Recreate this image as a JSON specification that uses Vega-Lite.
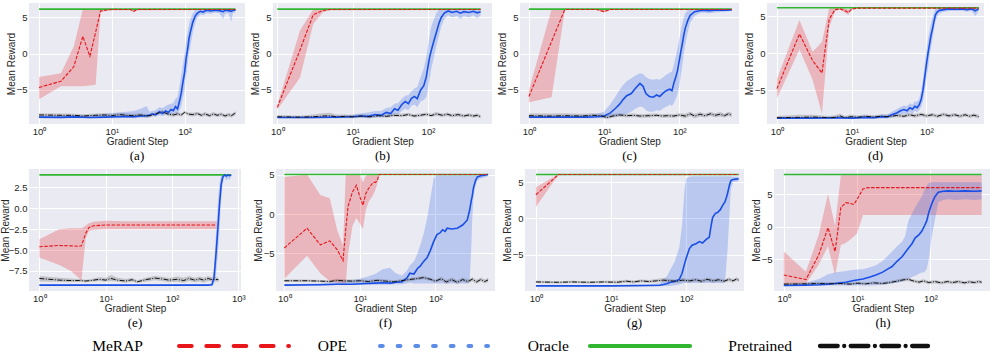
{
"$schema":"https://vega.github.io/schema/vega-lite/v6.json",
"padding":{"left":0,"top":3,"right":0,"bottom":0},
"background":"white",
"config":{
 "view":{"fill":"#eaeaf2","stroke":null},
 "axis":{"grid":true,"gridColor":"#ffffff","gridWidth":1,"domain":false,"ticks":false,"labelFont":"Liberation Sans","labelFontSize":9.5,"labelColor":"#262626","titleFont":"Liberation Sans","titleFontSize":10,"titleFontWeight":"normal","titleColor":"#262626","labelPadding":2},
 "axisY":{"titlePadding":0},
 "axisX":{"titlePadding":1,"labelFlush":false,"labelOverlap":false,"labelExpr":"datum.value == 1 ? '10⁰' : datum.value == 10 ? '10¹' : datum.value == 100 ? '10²' : '10³'"},
 "title":{"orient":"bottom","frame":"group","font":"Liberation Serif","fontSize":13,"fontWeight":"normal","color":"#000000","offset":3}
},
"datasets":{
"a":[
{"s":"R","x":1,"y":6.15},{"s":"R","x":500,"y":6.15},
{"s":"M","x":1,"y":-4.65,"l":-6.3,"h":-3.2},{"s":"M","x":2,"y":-3.8,"l":-4.5,"h":-2.7},{"s":"M","x":3,"y":-1.8,"l":-4.5,"h":1.0},{"s":"M","x":4,"y":2.4,"l":-4.5,"h":6.15},{"s":"M","x":5,"y":-0.35,"l":-4.4,"h":6.15},{"s":"M","x":6,"y":3.0,"l":-4.3,"h":6.15},{"s":"M","x":7,"y":5.9,"l":5.7,"h":6.15},{"s":"M","x":8,"y":6.0,"l":5.85,"h":6.15},{"s":"M","x":10,"y":6.1,"l":6.0,"h":6.15},{"s":"M","x":18,"y":6.1,"l":6.0,"h":6.15},{"s":"M","x":20,"y":5.85,"l":5.7,"h":6.1},{"s":"M","x":22,"y":6.1,"l":6.0,"h":6.15},{"s":"M","x":500,"y":6.1,"l":6.05,"h":6.15},
{"s":"O","x":1,"y":-8.75,"l":-8.9,"h":-8.55},{"s":"O","x":2,"y":-8.78,"l":-8.9,"h":-8.5},{"s":"O","x":3,"y":-8.72,"l":-8.9,"h":-8.45},{"s":"O","x":5,"y":-8.8,"l":-8.9,"h":-8.5},{"s":"O","x":8,"y":-8.75,"l":-8.9,"h":-8.3},{"s":"O","x":12,"y":-8.7,"l":-8.9,"h":-8.1},{"s":"O","x":16,"y":-8.65,"l":-8.85,"h":-8.0},{"s":"O","x":20,"y":-8.7,"l":-8.9,"h":-7.9},{"s":"O","x":25,"y":-8.6,"l":-8.85,"h":-7.6},{"s":"O","x":30,"y":-8.55,"l":-8.8,"h":-7.2},{"s":"O","x":33,"y":-8.5,"l":-8.8,"h":-8.0},{"s":"O","x":36,"y":-8.3,"l":-8.6,"h":-7.9},{"s":"O","x":40,"y":-8.45,"l":-8.7,"h":-7.8},{"s":"O","x":45,"y":-8.0,"l":-8.5,"h":-7.4},{"s":"O","x":50,"y":-8.25,"l":-8.6,"h":-7.5},{"s":"O","x":55,"y":-7.9,"l":-8.4,"h":-7.2},{"s":"O","x":60,"y":-8.1,"l":-8.5,"h":-7.0},{"s":"O","x":65,"y":-7.7,"l":-8.3,"h":-6.9},{"s":"O","x":70,"y":-7.85,"l":-8.4,"h":-6.8},{"s":"O","x":75,"y":-7.3,"l":-8.1,"h":-6.2},{"s":"O","x":80,"y":-7.6,"l":-8.3,"h":-6.0},{"s":"O","x":85,"y":-6.6,"l":-7.8,"h":-4.5},{"s":"O","x":90,"y":-5.4,"l":-7.2,"h":-3.0},{"s":"O","x":95,"y":-3.9,"l":-6.0,"h":-1.5},{"s":"O","x":100,"y":-2.6,"l":-5.0,"h":0.0},{"s":"O","x":105,"y":-0.6,"l":-3.0,"h":1.8},{"s":"O","x":110,"y":0.6,"l":-1.5,"h":3.0},{"s":"O","x":115,"y":2.1,"l":0.2,"h":4.0},{"s":"O","x":120,"y":3.0,"l":1.0,"h":4.8},{"s":"O","x":130,"y":4.4,"l":3.0,"h":5.6},{"s":"O","x":140,"y":5.2,"l":4.3,"h":6.0},{"s":"O","x":150,"y":5.6,"l":5.0,"h":6.1},{"s":"O","x":165,"y":5.85,"l":5.4,"h":6.15},{"s":"O","x":180,"y":5.75,"l":5.3,"h":6.15},{"s":"O","x":200,"y":6.0,"l":5.6,"h":6.15},{"s":"O","x":230,"y":5.9,"l":5.5,"h":6.15},{"s":"O","x":260,"y":6.0,"l":5.7,"h":6.15},{"s":"O","x":300,"y":5.95,"l":5.6,"h":6.15},{"s":"O","x":340,"y":5.8,"l":4.8,"h":6.15},{"s":"O","x":360,"y":6.0,"l":5.5,"h":6.15},{"s":"O","x":400,"y":5.95,"l":5.6,"h":6.15},{"s":"O","x":440,"y":5.85,"l":4.4,"h":6.1},{"s":"O","x":460,"y":6.0,"l":5.6,"h":6.15},{"s":"O","x":500,"y":6.0,"l":5.7,"h":6.15},
{"s":"P","x":1,"y":-8.45,"l":-8.7,"h":-8.2},{"s":"P","x":2,"y":-8.5,"l":-8.75,"h":-8.25},{"s":"P","x":3,"y":-8.5,"l":-8.7,"h":-8.3},{"s":"P","x":4,"y":-8.6,"l":-8.8,"h":-8.35},{"s":"P","x":6,"y":-8.5,"l":-8.75,"h":-8.25},{"s":"P","x":8,"y":-8.45,"l":-8.7,"h":-8.2},{"s":"P","x":10,"y":-8.55,"l":-8.75,"h":-8.3},{"s":"P","x":13,"y":-8.4,"l":-8.65,"h":-8.15},{"s":"P","x":16,"y":-8.5,"l":-8.75,"h":-8.25},{"s":"P","x":20,"y":-8.55,"l":-8.8,"h":-8.3},{"s":"P","x":25,"y":-8.45,"l":-8.7,"h":-8.2},{"s":"P","x":30,"y":-8.6,"l":-8.85,"h":-8.35},{"s":"P","x":35,"y":-8.5,"l":-8.7,"h":-8.3},{"s":"P","x":40,"y":-8.3,"l":-8.5,"h":-8.1},{"s":"P","x":45,"y":-8.15,"l":-8.35,"h":-7.95},{"s":"P","x":50,"y":-8.0,"l":-8.2,"h":-7.8},{"s":"P","x":55,"y":-8.2,"l":-8.45,"h":-8.0},{"s":"P","x":60,"y":-8.35,"l":-8.6,"h":-8.1},{"s":"P","x":70,"y":-8.45,"l":-8.7,"h":-8.2},{"s":"P","x":80,"y":-8.3,"l":-8.55,"h":-8.05},{"s":"P","x":90,"y":-8.45,"l":-8.7,"h":-8.2},{"s":"P","x":100,"y":-8.1,"l":-8.3,"h":-7.9},{"s":"P","x":115,"y":-8.35,"l":-8.6,"h":-8.1},{"s":"P","x":130,"y":-8.4,"l":-8.65,"h":-8.15},{"s":"P","x":150,"y":-8.25,"l":-8.5,"h":-8.0},{"s":"P","x":170,"y":-8.5,"l":-8.75,"h":-8.25},{"s":"P","x":190,"y":-8.3,"l":-8.55,"h":-8.05},{"s":"P","x":220,"y":-8.55,"l":-8.8,"h":-8.3},{"s":"P","x":250,"y":-8.3,"l":-8.55,"h":-8.05},{"s":"P","x":280,"y":-8.5,"l":-8.75,"h":-8.25},{"s":"P","x":320,"y":-8.35,"l":-8.6,"h":-8.1},{"s":"P","x":360,"y":-8.6,"l":-8.85,"h":-8.35},{"s":"P","x":400,"y":-8.4,"l":-8.65,"h":-8.15},{"s":"P","x":440,"y":-8.55,"l":-8.8,"h":-8.3},{"s":"P","x":480,"y":-8.3,"l":-8.55,"h":-8.05},{"s":"P","x":500,"y":-8.2,"l":-8.45,"h":-7.95}
],
"b":[
{"s":"R","x":1,"y":6.15},{"s":"R","x":500,"y":6.15},
{"s":"M","x":1,"y":-7.4,"l":-7.7,"h":-7.1},{"s":"M","x":2,"y":0.5,"l":-3.3,"h":3.2},{"s":"M","x":3,"y":5.4,"l":4.1,"h":6.15},{"s":"M","x":4,"y":5.95,"l":5.7,"h":6.15},{"s":"M","x":5,"y":6.1,"l":6.0,"h":6.15},{"s":"M","x":500,"y":6.1,"l":6.05,"h":6.15},
{"s":"O","x":1,"y":-8.8,"l":-8.9,"h":-8.7},{"s":"O","x":3,"y":-8.8,"l":-8.9,"h":-8.65},{"s":"O","x":6,"y":-8.75,"l":-8.9,"h":-8.6},{"s":"O","x":10,"y":-8.7,"l":-8.9,"h":-8.4},{"s":"O","x":13,"y":-8.6,"l":-8.85,"h":-8.2},{"s":"O","x":16,"y":-8.65,"l":-8.9,"h":-8.1},{"s":"O","x":20,"y":-8.4,"l":-8.8,"h":-7.9},{"s":"O","x":24,"y":-8.5,"l":-8.8,"h":-7.9},{"s":"O","x":28,"y":-8.1,"l":-8.6,"h":-7.5},{"s":"O","x":32,"y":-8.25,"l":-8.7,"h":-7.4},{"s":"O","x":36,"y":-7.6,"l":-8.3,"h":-6.9},{"s":"O","x":40,"y":-7.8,"l":-8.4,"h":-6.8},{"s":"O","x":45,"y":-7.0,"l":-7.9,"h":-6.2},{"s":"O","x":50,"y":-6.6,"l":-7.6,"h":-5.8},{"s":"O","x":55,"y":-6.9,"l":-7.8,"h":-5.7},{"s":"O","x":60,"y":-6.2,"l":-7.2,"h":-5.2},{"s":"O","x":66,"y":-5.9,"l":-7.0,"h":-4.8},{"s":"O","x":72,"y":-6.2,"l":-7.4,"h":-4.6},{"s":"O","x":80,"y":-5.0,"l":-6.6,"h":-3.2},{"s":"O","x":88,"y":-4.4,"l":-6.4,"h":-2.0},{"s":"O","x":95,"y":-3.2,"l":-6.0,"h":-0.5},{"s":"O","x":100,"y":-1.8,"l":-5.0,"h":1.0},{"s":"O","x":105,"y":-0.5,"l":-3.5,"h":2.5},{"s":"O","x":111,"y":0.5,"l":-2.0,"h":3.8},{"s":"O","x":120,"y":1.8,"l":-0.5,"h":4.8},{"s":"O","x":129,"y":2.9,"l":1.0,"h":5.6},{"s":"O","x":140,"y":4.2,"l":2.5,"h":6.1},{"s":"O","x":150,"y":5.0,"l":3.8,"h":6.15},{"s":"O","x":165,"y":5.6,"l":4.8,"h":6.15},{"s":"O","x":185,"y":5.9,"l":5.3,"h":6.15},{"s":"O","x":210,"y":5.7,"l":5.0,"h":6.15},{"s":"O","x":240,"y":5.85,"l":5.2,"h":6.15},{"s":"O","x":270,"y":5.6,"l":4.8,"h":6.1},{"s":"O","x":300,"y":5.8,"l":5.2,"h":6.15},{"s":"O","x":350,"y":5.7,"l":5.0,"h":6.1},{"s":"O","x":400,"y":5.85,"l":5.3,"h":6.15},{"s":"O","x":450,"y":5.65,"l":4.9,"h":6.1},{"s":"O","x":500,"y":5.8,"l":5.3,"h":6.1},
{"s":"P","x":1,"y":-8.7,"l":-8.85,"h":-8.45},{"s":"P","x":2,"y":-8.75,"l":-8.9,"h":-8.55},{"s":"P","x":3,"y":-8.7,"l":-8.9,"h":-8.4},{"s":"P","x":4,"y":-8.6,"l":-8.85,"h":-8.2},{"s":"P","x":5,"y":-8.55,"l":-8.85,"h":-8.15},{"s":"P","x":6,"y":-8.7,"l":-8.9,"h":-8.4},{"s":"P","x":8,"y":-8.65,"l":-8.85,"h":-8.4},{"s":"P","x":10,"y":-8.7,"l":-8.9,"h":-8.45},{"s":"P","x":13,"y":-8.6,"l":-8.8,"h":-8.35},{"s":"P","x":17,"y":-8.7,"l":-8.9,"h":-8.45},{"s":"P","x":22,"y":-8.55,"l":-8.75,"h":-8.3},{"s":"P","x":28,"y":-8.65,"l":-8.85,"h":-8.4},{"s":"P","x":35,"y":-8.5,"l":-8.7,"h":-8.25},{"s":"P","x":45,"y":-8.55,"l":-8.75,"h":-8.3},{"s":"P","x":55,"y":-8.4,"l":-8.6,"h":-8.15},{"s":"P","x":65,"y":-8.6,"l":-8.8,"h":-8.35},{"s":"P","x":80,"y":-8.5,"l":-8.7,"h":-8.25},{"s":"P","x":95,"y":-8.35,"l":-8.6,"h":-8.1},{"s":"P","x":110,"y":-8.55,"l":-8.75,"h":-8.3},{"s":"P","x":130,"y":-8.3,"l":-8.55,"h":-8.05},{"s":"P","x":155,"y":-8.5,"l":-8.75,"h":-8.25},{"s":"P","x":180,"y":-8.35,"l":-8.6,"h":-8.1},{"s":"P","x":210,"y":-8.55,"l":-8.8,"h":-8.3},{"s":"P","x":250,"y":-8.4,"l":-8.65,"h":-8.15},{"s":"P","x":300,"y":-8.6,"l":-8.85,"h":-8.35},{"s":"P","x":350,"y":-8.45,"l":-8.7,"h":-8.2},{"s":"P","x":400,"y":-8.6,"l":-8.85,"h":-8.35},{"s":"P","x":450,"y":-8.5,"l":-8.75,"h":-8.25},{"s":"P","x":500,"y":-8.7,"l":-8.9,"h":-8.45}
],
"c":[
{"s":"R","x":1,"y":6.15},{"s":"R","x":500,"y":6.15},
{"s":"M","x":1,"y":-5.9,"l":-6.7,"h":-5.0},{"s":"M","x":2,"y":1.7,"l":-6.0,"h":6.15},{"s":"M","x":3,"y":6.1,"l":6.05,"h":6.15},{"s":"M","x":8,"y":6.1,"l":6.05,"h":6.15},{"s":"M","x":10,"y":5.8,"l":5.7,"h":6.1},{"s":"M","x":12,"y":6.1,"l":6.05,"h":6.15},{"s":"M","x":500,"y":6.1,"l":6.05,"h":6.15},
{"s":"O","x":1,"y":-8.75,"l":-8.9,"h":-8.6},{"s":"O","x":3,"y":-8.75,"l":-8.9,"h":-8.55},{"s":"O","x":6,"y":-8.75,"l":-8.9,"h":-8.5},{"s":"O","x":8,"y":-8.7,"l":-8.9,"h":-8.3},{"s":"O","x":10,"y":-8.6,"l":-8.9,"h":-8.0},{"s":"O","x":12,"y":-8.2,"l":-8.8,"h":-7.0},{"s":"O","x":14,"y":-7.6,"l":-8.7,"h":-6.0},{"s":"O","x":16,"y":-7.0,"l":-8.6,"h":-5.0},{"s":"O","x":18,"y":-6.3,"l":-8.5,"h":-4.3},{"s":"O","x":20,"y":-5.8,"l":-8.3,"h":-3.8},{"s":"O","x":23,"y":-5.5,"l":-8.0,"h":-3.4},{"s":"O","x":26,"y":-4.8,"l":-7.6,"h":-3.0},{"s":"O","x":30,"y":-4.1,"l":-7.3,"h":-2.7},{"s":"O","x":33,"y":-4.5,"l":-7.4,"h":-2.8},{"s":"O","x":36,"y":-5.5,"l":-7.8,"h":-3.2},{"s":"O","x":40,"y":-5.9,"l":-8.0,"h":-3.5},{"s":"O","x":45,"y":-6.0,"l":-8.0,"h":-3.6},{"s":"O","x":50,"y":-5.7,"l":-7.8,"h":-3.5},{"s":"O","x":55,"y":-5.9,"l":-7.9,"h":-3.6},{"s":"O","x":60,"y":-5.5,"l":-7.6,"h":-3.3},{"s":"O","x":65,"y":-5.2,"l":-7.4,"h":-3.0},{"s":"O","x":70,"y":-5.0,"l":-7.2,"h":-2.8},{"s":"O","x":75,"y":-4.9,"l":-7.0,"h":-2.6},{"s":"O","x":80,"y":-5.1,"l":-7.2,"h":-2.5},{"s":"O","x":85,"y":-4.0,"l":-6.8,"h":-1.5},{"s":"O","x":90,"y":-3.2,"l":-6.2,"h":-0.3},{"s":"O","x":95,"y":-2.3,"l":-5.5,"h":0.8},{"s":"O","x":100,"y":-1.0,"l":-4.5,"h":2.0},{"s":"O","x":105,"y":0.3,"l":-3.0,"h":3.2},{"s":"O","x":110,"y":1.4,"l":-1.5,"h":4.2},{"s":"O","x":115,"y":2.6,"l":0.0,"h":5.0},{"s":"O","x":120,"y":3.5,"l":1.2,"h":5.6},{"s":"O","x":130,"y":4.6,"l":3.0,"h":6.0},{"s":"O","x":140,"y":5.3,"l":4.3,"h":6.15},{"s":"O","x":160,"y":5.8,"l":5.2,"h":6.15},{"s":"O","x":180,"y":5.9,"l":5.5,"h":6.15},{"s":"O","x":200,"y":6.0,"l":5.7,"h":6.15},{"s":"O","x":250,"y":5.95,"l":5.6,"h":6.15},{"s":"O","x":300,"y":6.0,"l":5.7,"h":6.15},{"s":"O","x":400,"y":6.0,"l":5.8,"h":6.15},{"s":"O","x":500,"y":6.05,"l":5.9,"h":6.15},
{"s":"P","x":1,"y":-8.55,"l":-8.8,"h":-8.2},{"s":"P","x":2,"y":-8.6,"l":-8.85,"h":-8.25},{"s":"P","x":3,"y":-8.55,"l":-8.8,"h":-8.2},{"s":"P","x":5,"y":-8.6,"l":-8.8,"h":-8.3},{"s":"P","x":7,"y":-8.5,"l":-8.7,"h":-8.2},{"s":"P","x":9,"y":-8.55,"l":-8.8,"h":-8.3},{"s":"P","x":11,"y":-8.8,"l":-9.0,"h":-8.5},{"s":"P","x":13,"y":-8.6,"l":-8.85,"h":-8.3},{"s":"P","x":16,"y":-8.45,"l":-8.7,"h":-8.2},{"s":"P","x":20,"y":-8.55,"l":-8.8,"h":-8.3},{"s":"P","x":25,"y":-8.5,"l":-8.75,"h":-8.25},{"s":"P","x":30,"y":-8.6,"l":-8.85,"h":-8.35},{"s":"P","x":40,"y":-8.55,"l":-8.8,"h":-8.3},{"s":"P","x":50,"y":-8.5,"l":-8.75,"h":-8.25},{"s":"P","x":60,"y":-8.6,"l":-8.85,"h":-8.35},{"s":"P","x":70,"y":-8.55,"l":-8.8,"h":-8.3},{"s":"P","x":85,"y":-8.6,"l":-8.85,"h":-8.35},{"s":"P","x":100,"y":-8.45,"l":-8.7,"h":-8.2},{"s":"P","x":120,"y":-8.6,"l":-8.9,"h":-8.3},{"s":"P","x":140,"y":-8.3,"l":-8.6,"h":-8.0},{"s":"P","x":160,"y":-8.6,"l":-8.9,"h":-8.3},{"s":"P","x":190,"y":-8.35,"l":-8.65,"h":-8.05},{"s":"P","x":220,"y":-8.55,"l":-8.8,"h":-8.3},{"s":"P","x":260,"y":-8.3,"l":-8.6,"h":-8.0},{"s":"P","x":300,"y":-8.5,"l":-8.8,"h":-8.2},{"s":"P","x":350,"y":-8.35,"l":-8.65,"h":-8.05},{"s":"P","x":400,"y":-8.55,"l":-8.8,"h":-8.3},{"s":"P","x":450,"y":-8.3,"l":-8.6,"h":-8.0},{"s":"P","x":500,"y":-8.45,"l":-8.75,"h":-8.15}
],
"d":[
{"s":"R","x":1,"y":6.15},{"s":"R","x":500,"y":6.15},
{"s":"M","x":1,"y":-4.8,"l":-6.1,"h":-3.5},{"s":"M","x":2,"y":2.6,"l":0.5,"h":4.5},{"s":"M","x":3,"y":-1.0,"l":-3.6,"h":0.2},{"s":"M","x":4,"y":-2.7,"l":-8.2,"h":1.5},{"s":"M","x":5,"y":4.6,"l":3.5,"h":6.1},{"s":"M","x":6,"y":5.9,"l":5.7,"h":6.15},{"s":"M","x":7,"y":6.0,"l":5.9,"h":6.15},{"s":"M","x":8,"y":5.8,"l":5.5,"h":6.1},{"s":"M","x":9,"y":5.5,"l":5.2,"h":5.9},{"s":"M","x":10,"y":6.0,"l":5.9,"h":6.15},{"s":"M","x":12,"y":6.1,"l":6.05,"h":6.15},{"s":"M","x":500,"y":6.1,"l":6.05,"h":6.15},
{"s":"O","x":1,"y":-8.8,"l":-8.9,"h":-8.7},{"s":"O","x":3,"y":-8.8,"l":-8.9,"h":-8.7},{"s":"O","x":6,"y":-8.75,"l":-8.9,"h":-8.6},{"s":"O","x":10,"y":-8.8,"l":-8.9,"h":-8.6},{"s":"O","x":15,"y":-8.7,"l":-8.9,"h":-8.5},{"s":"O","x":20,"y":-8.75,"l":-8.9,"h":-8.5},{"s":"O","x":25,"y":-8.6,"l":-8.85,"h":-8.3},{"s":"O","x":30,"y":-8.65,"l":-8.9,"h":-8.3},{"s":"O","x":35,"y":-8.3,"l":-8.7,"h":-7.9},{"s":"O","x":40,"y":-8.1,"l":-8.5,"h":-7.6},{"s":"O","x":45,"y":-7.8,"l":-8.3,"h":-7.3},{"s":"O","x":50,"y":-7.65,"l":-8.2,"h":-7.1},{"s":"O","x":55,"y":-7.8,"l":-8.3,"h":-7.2},{"s":"O","x":60,"y":-7.4,"l":-8.0,"h":-6.8},{"s":"O","x":65,"y":-7.6,"l":-8.2,"h":-7.0},{"s":"O","x":70,"y":-7.2,"l":-7.8,"h":-6.5},{"s":"O","x":75,"y":-7.4,"l":-8.0,"h":-6.6},{"s":"O","x":80,"y":-7.0,"l":-7.7,"h":-6.2},{"s":"O","x":85,"y":-6.3,"l":-7.3,"h":-5.0},{"s":"O","x":90,"y":-5.0,"l":-6.5,"h":-3.5},{"s":"O","x":95,"y":-3.2,"l":-5.0,"h":-1.5},{"s":"O","x":100,"y":-1.5,"l":-3.5,"h":0.5},{"s":"O","x":105,"y":0.0,"l":-2.0,"h":2.0},{"s":"O","x":110,"y":1.2,"l":-0.5,"h":3.0},{"s":"O","x":115,"y":2.4,"l":0.8,"h":4.0},{"s":"O","x":120,"y":3.2,"l":1.8,"h":4.8},{"s":"O","x":126,"y":4.3,"l":3.2,"h":5.5},{"s":"O","x":132,"y":5.2,"l":4.3,"h":6.0},{"s":"O","x":140,"y":5.6,"l":5.0,"h":6.15},{"s":"O","x":150,"y":5.8,"l":5.4,"h":6.15},{"s":"O","x":170,"y":5.9,"l":5.6,"h":6.15},{"s":"O","x":200,"y":6.0,"l":5.7,"h":6.15},{"s":"O","x":250,"y":5.95,"l":5.7,"h":6.15},{"s":"O","x":300,"y":6.0,"l":5.75,"h":6.15},{"s":"O","x":350,"y":5.9,"l":5.6,"h":6.15},{"s":"O","x":400,"y":6.0,"l":5.75,"h":6.15},{"s":"O","x":450,"y":5.75,"l":5.0,"h":6.1},{"s":"O","x":500,"y":6.0,"l":5.7,"h":6.15},
{"s":"P","x":1,"y":-8.75,"l":-8.9,"h":-8.5},{"s":"P","x":2,"y":-8.7,"l":-8.9,"h":-8.35},{"s":"P","x":3,"y":-8.65,"l":-8.9,"h":-8.35},{"s":"P","x":4,"y":-8.7,"l":-8.9,"h":-8.45},{"s":"P","x":5,"y":-8.75,"l":-8.9,"h":-8.5},{"s":"P","x":6,"y":-8.7,"l":-8.9,"h":-8.4},{"s":"P","x":7,"y":-8.5,"l":-8.8,"h":-8.2},{"s":"P","x":8,"y":-8.75,"l":-8.9,"h":-8.5},{"s":"P","x":10,"y":-8.6,"l":-8.85,"h":-8.3},{"s":"P","x":12,"y":-8.7,"l":-8.9,"h":-8.45},{"s":"P","x":15,"y":-8.55,"l":-8.8,"h":-8.3},{"s":"P","x":20,"y":-8.65,"l":-8.85,"h":-8.4},{"s":"P","x":25,"y":-8.55,"l":-8.8,"h":-8.3},{"s":"P","x":30,"y":-8.6,"l":-8.8,"h":-8.35},{"s":"P","x":40,"y":-8.45,"l":-8.7,"h":-8.2},{"s":"P","x":50,"y":-8.55,"l":-8.75,"h":-8.3},{"s":"P","x":60,"y":-8.35,"l":-8.6,"h":-8.1},{"s":"P","x":70,"y":-8.5,"l":-8.75,"h":-8.25},{"s":"P","x":85,"y":-8.3,"l":-8.55,"h":-8.05},{"s":"P","x":100,"y":-8.5,"l":-8.75,"h":-8.25},{"s":"P","x":120,"y":-8.35,"l":-8.6,"h":-8.1},{"s":"P","x":140,"y":-8.55,"l":-8.8,"h":-8.3},{"s":"P","x":170,"y":-8.3,"l":-8.55,"h":-8.05},{"s":"P","x":200,"y":-8.5,"l":-8.75,"h":-8.25},{"s":"P","x":240,"y":-8.35,"l":-8.6,"h":-8.1},{"s":"P","x":280,"y":-8.55,"l":-8.8,"h":-8.3},{"s":"P","x":330,"y":-8.35,"l":-8.6,"h":-8.1},{"s":"P","x":380,"y":-8.55,"l":-8.8,"h":-8.3},{"s":"P","x":430,"y":-8.4,"l":-8.65,"h":-8.15},{"s":"P","x":500,"y":-8.6,"l":-8.85,"h":-8.35}
],
"e":[
{"s":"R","x":1,"y":4.0},{"s":"R","x":780,"y":4.0},
{"s":"M","x":1,"y":-4.6,"l":-5.9,"h":-3.7},{"s":"M","x":2,"y":-4.45,"l":-6.8,"h":-2.5},{"s":"M","x":3,"y":-4.5,"l":-7.5,"h":-2.4},{"s":"M","x":4,"y":-4.55,"l":-8.4,"h":-2.4},{"s":"M","x":4.3,"y":-4.5,"l":-8.7,"h":-2.4},{"s":"M","x":5,"y":-3.0,"l":-3.6,"h":-2.1},{"s":"M","x":5.6,"y":-2.3,"l":-2.7,"h":-1.8},{"s":"M","x":6.5,"y":-2.1,"l":-2.6,"h":-1.6},{"s":"M","x":8,"y":-2.05,"l":-2.55,"h":-1.55},{"s":"M","x":10,"y":-2.0,"l":-2.5,"h":-1.5},{"s":"M","x":20,"y":-2.0,"l":-2.5,"h":-1.55},{"s":"M","x":50,"y":-2.0,"l":-2.5,"h":-1.55},{"s":"M","x":100,"y":-2.0,"l":-2.5,"h":-1.55},{"s":"M","x":200,"y":-2.0,"l":-2.5,"h":-1.55},{"s":"M","x":470,"y":-2.0,"l":-2.5,"h":-1.55},
{"s":"O","x":1,"y":-9.2,"l":-9.25,"h":-9.15},{"s":"O","x":10,"y":-9.2,"l":-9.25,"h":-9.15},{"s":"O","x":100,"y":-9.2,"l":-9.25,"h":-9.15},{"s":"O","x":350,"y":-9.2,"l":-9.25,"h":-9.1},{"s":"O","x":400,"y":-9.15,"l":-9.25,"h":-8.9},{"s":"O","x":430,"y":-8.3,"l":-9.0,"h":-7.0},{"s":"O","x":460,"y":-5.5,"l":-8.0,"h":-3.0},{"s":"O","x":490,"y":-2.5,"l":-5.5,"h":0.5},{"s":"O","x":520,"y":0.5,"l":-2.5,"h":3.0},{"s":"O","x":550,"y":2.8,"l":1.0,"h":4.0},{"s":"O","x":580,"y":3.7,"l":3.0,"h":4.0},{"s":"O","x":620,"y":4.0,"l":3.8,"h":4.05},{"s":"O","x":660,"y":3.85,"l":3.3,"h":4.05},{"s":"O","x":700,"y":4.0,"l":3.6,"h":4.05},{"s":"O","x":740,"y":3.9,"l":3.4,"h":4.05},{"s":"O","x":780,"y":4.0,"l":3.8,"h":4.05},
{"s":"P","x":1,"y":-8.4,"l":-8.75,"h":-8.1},{"s":"P","x":2,"y":-8.6,"l":-8.8,"h":-8.3},{"s":"P","x":3,"y":-8.65,"l":-8.85,"h":-8.4},{"s":"P","x":4,"y":-8.65,"l":-8.8,"h":-8.45},{"s":"P","x":5,"y":-8.7,"l":-8.85,"h":-8.55},{"s":"P","x":6,"y":-8.65,"l":-8.8,"h":-8.45},{"s":"P","x":8,"y":-8.5,"l":-8.7,"h":-8.25},{"s":"P","x":10,"y":-8.6,"l":-8.8,"h":-8.3},{"s":"P","x":12,"y":-8.4,"l":-8.7,"h":-8.0},{"s":"P","x":15,"y":-8.6,"l":-8.8,"h":-8.3},{"s":"P","x":20,"y":-8.7,"l":-8.9,"h":-8.45},{"s":"P","x":25,"y":-8.55,"l":-8.75,"h":-8.3},{"s":"P","x":30,"y":-8.8,"l":-8.95,"h":-8.6},{"s":"P","x":40,"y":-8.55,"l":-8.8,"h":-8.3},{"s":"P","x":55,"y":-8.35,"l":-8.6,"h":-8.1},{"s":"P","x":70,"y":-8.45,"l":-8.7,"h":-8.2},{"s":"P","x":90,"y":-8.6,"l":-8.85,"h":-8.35},{"s":"P","x":120,"y":-8.5,"l":-8.8,"h":-8.15},{"s":"P","x":150,"y":-8.65,"l":-8.9,"h":-8.3},{"s":"P","x":180,"y":-8.4,"l":-8.7,"h":-8.1},{"s":"P","x":220,"y":-8.6,"l":-8.85,"h":-8.3},{"s":"P","x":260,"y":-8.45,"l":-8.75,"h":-8.15},{"s":"P","x":300,"y":-8.6,"l":-8.9,"h":-8.3},{"s":"P","x":350,"y":-8.4,"l":-8.7,"h":-8.1},{"s":"P","x":400,"y":-8.55,"l":-8.8,"h":-8.25},{"s":"P","x":450,"y":-8.5,"l":-8.75,"h":-8.2},{"s":"P","x":500,"y":-8.55,"l":-8.8,"h":-8.3}
],
"f":[
{"s":"R","x":1,"y":5.0},{"s":"R","x":500,"y":5.0},
{"s":"M","x":1,"y":-4.3,"l":-8.2,"h":4.7},{"s":"M","x":2,"y":-1.8,"l":-5.3,"h":5.0},{"s":"M","x":3,"y":-3.9,"l":-7.5,"h":2.4},{"s":"M","x":4,"y":-3.4,"l":-8.5,"h":2.0},{"s":"M","x":5,"y":-4.5,"l":-8.7,"h":-2.0},{"s":"M","x":6,"y":-5.9,"l":-8.8,"h":-4.0},{"s":"M","x":6.5,"y":-2.0,"l":-8.8,"h":5.0},{"s":"M","x":7,"y":1.0,"l":-5.0,"h":5.0},{"s":"M","x":8,"y":2.8,"l":-1.5,"h":5.0},{"s":"M","x":9,"y":3.65,"l":-0.5,"h":5.0},{"s":"M","x":10,"y":2.2,"l":-1.2,"h":5.0},{"s":"M","x":11,"y":1.1,"l":-1.9,"h":4.0},{"s":"M","x":12,"y":2.6,"l":0.5,"h":4.8},{"s":"M","x":13,"y":3.2,"l":1.5,"h":5.0},{"s":"M","x":15,"y":4.0,"l":2.4,"h":5.0},{"s":"M","x":16,"y":4.0,"l":3.0,"h":5.0},{"s":"M","x":17,"y":4.2,"l":3.8,"h":5.0},{"s":"M","x":18,"y":5.0,"l":4.9,"h":5.05},{"s":"M","x":20,"y":5.0,"l":4.95,"h":5.05},{"s":"M","x":500,"y":5.0,"l":4.95,"h":5.05},
{"s":"O","x":1,"y":-9.0,"l":-9.05,"h":-8.9},{"s":"O","x":3,"y":-8.95,"l":-9.05,"h":-8.8},{"s":"O","x":5,"y":-8.9,"l":-9.0,"h":-8.6},{"s":"O","x":8,"y":-8.9,"l":-9.0,"h":-8.4},{"s":"O","x":12,"y":-8.8,"l":-9.0,"h":-8.0},{"s":"O","x":16,"y":-8.75,"l":-8.95,"h":-7.6},{"s":"O","x":20,"y":-8.7,"l":-8.95,"h":-7.0},{"s":"O","x":25,"y":-8.75,"l":-8.95,"h":-6.8},{"s":"O","x":30,"y":-8.65,"l":-8.9,"h":-7.5},{"s":"O","x":36,"y":-8.6,"l":-8.9,"h":-7.8},{"s":"O","x":42,"y":-8.1,"l":-8.8,"h":-7.2},{"s":"O","x":46,"y":-7.5,"l":-8.7,"h":-6.5},{"s":"O","x":52,"y":-7.6,"l":-8.8,"h":-6.0},{"s":"O","x":58,"y":-6.9,"l":-8.8,"h":-5.0},{"s":"O","x":63,"y":-6.6,"l":-8.8,"h":-4.0},{"s":"O","x":70,"y":-6.0,"l":-8.8,"h":-2.5},{"s":"O","x":78,"y":-5.5,"l":-8.8,"h":-0.5},{"s":"O","x":86,"y":-4.6,"l":-8.8,"h":2.0},{"s":"O","x":95,"y":-3.5,"l":-8.8,"h":4.5},{"s":"O","x":105,"y":-2.6,"l":-8.8,"h":5.0},{"s":"O","x":115,"y":-2.4,"l":-8.8,"h":5.0},{"s":"O","x":125,"y":-2.0,"l":-8.8,"h":5.0},{"s":"O","x":135,"y":-2.2,"l":-8.8,"h":5.0},{"s":"O","x":143,"y":-1.8,"l":-8.8,"h":5.0},{"s":"O","x":165,"y":-1.9,"l":-8.8,"h":5.0},{"s":"O","x":195,"y":-1.8,"l":-8.8,"h":5.0},{"s":"O","x":230,"y":-1.4,"l":-8.8,"h":5.0},{"s":"O","x":265,"y":-0.75,"l":-8.8,"h":5.0},{"s":"O","x":285,"y":0.5,"l":-8.5,"h":5.0},{"s":"O","x":300,"y":1.8,"l":-4.0,"h":5.0},{"s":"O","x":307,"y":2.2,"l":-1.0,"h":5.0},{"s":"O","x":320,"y":3.3,"l":2.0,"h":5.0},{"s":"O","x":340,"y":4.2,"l":3.6,"h":5.0},{"s":"O","x":360,"y":4.7,"l":4.3,"h":5.0},{"s":"O","x":400,"y":4.85,"l":4.5,"h":5.0},{"s":"O","x":440,"y":4.9,"l":4.6,"h":5.0},{"s":"O","x":500,"y":5.0,"l":4.8,"h":5.05},
{"s":"P","x":1,"y":-8.45,"l":-8.6,"h":-8.3},{"s":"P","x":2,"y":-8.45,"l":-8.6,"h":-8.3},{"s":"P","x":3,"y":-8.5,"l":-8.65,"h":-8.35},{"s":"P","x":4,"y":-8.55,"l":-8.7,"h":-8.4},{"s":"P","x":5,"y":-8.4,"l":-8.6,"h":-8.2},{"s":"P","x":6,"y":-8.45,"l":-8.6,"h":-8.25},{"s":"P","x":8,"y":-8.5,"l":-8.7,"h":-8.3},{"s":"P","x":10,"y":-8.45,"l":-8.65,"h":-8.25},{"s":"P","x":13,"y":-8.55,"l":-8.75,"h":-8.35},{"s":"P","x":17,"y":-8.4,"l":-8.6,"h":-8.2},{"s":"P","x":22,"y":-8.5,"l":-8.7,"h":-8.3},{"s":"P","x":28,"y":-8.6,"l":-8.8,"h":-8.4},{"s":"P","x":35,"y":-8.45,"l":-8.65,"h":-8.25},{"s":"P","x":45,"y":-8.3,"l":-8.5,"h":-8.1},{"s":"P","x":55,"y":-8.2,"l":-8.4,"h":-8.0},{"s":"P","x":70,"y":-8.05,"l":-8.25,"h":-7.85},{"s":"P","x":85,"y":-8.25,"l":-8.45,"h":-8.05},{"s":"P","x":100,"y":-8.5,"l":-8.7,"h":-8.3},{"s":"P","x":120,"y":-8.2,"l":-8.45,"h":-7.95},{"s":"P","x":140,"y":-8.6,"l":-8.85,"h":-8.35},{"s":"P","x":165,"y":-8.3,"l":-8.55,"h":-8.05},{"s":"P","x":195,"y":-8.65,"l":-8.9,"h":-8.4},{"s":"P","x":230,"y":-8.3,"l":-8.55,"h":-8.05},{"s":"P","x":270,"y":-8.55,"l":-8.8,"h":-8.3},{"s":"P","x":310,"y":-8.25,"l":-8.5,"h":-8.0},{"s":"P","x":350,"y":-8.6,"l":-8.85,"h":-8.35},{"s":"P","x":400,"y":-8.3,"l":-8.55,"h":-8.05},{"s":"P","x":450,"y":-8.55,"l":-8.8,"h":-8.3},{"s":"P","x":500,"y":-8.35,"l":-8.6,"h":-8.1}
],
"g":[
{"s":"R","x":1,"y":6.05},{"s":"R","x":500,"y":6.05},
{"s":"M","x":1,"y":3.25,"l":1.6,"h":4.3},{"s":"M","x":2,"y":6.05,"l":6.0,"h":6.1},{"s":"M","x":500,"y":6.05,"l":6.0,"h":6.1},
{"s":"O","x":1,"y":-9.3,"l":-9.35,"h":-9.25},{"s":"O","x":10,"y":-9.3,"l":-9.35,"h":-9.2},{"s":"O","x":30,"y":-9.25,"l":-9.35,"h":-9.1},{"s":"O","x":45,"y":-9.2,"l":-9.35,"h":-8.9},{"s":"O","x":55,"y":-9.0,"l":-9.3,"h":-8.0},{"s":"O","x":62,"y":-8.8,"l":-9.3,"h":-7.0},{"s":"O","x":70,"y":-8.7,"l":-9.2,"h":-6.0},{"s":"O","x":81,"y":-8.4,"l":-9.1,"h":-4.0},{"s":"O","x":88,"y":-7.6,"l":-9.0,"h":-1.0},{"s":"O","x":95,"y":-6.3,"l":-8.9,"h":4.0},{"s":"O","x":100,"y":-5.5,"l":-8.9,"h":5.5},{"s":"O","x":110,"y":-4.2,"l":-8.9,"h":5.75},{"s":"O","x":120,"y":-3.7,"l":-8.9,"h":5.8},{"s":"O","x":135,"y":-3.5,"l":-8.9,"h":5.8},{"s":"O","x":150,"y":-3.2,"l":-8.9,"h":5.8},{"s":"O","x":165,"y":-3.4,"l":-8.9,"h":5.8},{"s":"O","x":185,"y":-2.9,"l":-8.9,"h":5.8},{"s":"O","x":203,"y":-2.6,"l":-8.9,"h":5.8},{"s":"O","x":215,"y":-1.0,"l":-8.9,"h":5.8},{"s":"O","x":225,"y":0.1,"l":-8.9,"h":5.8},{"s":"O","x":245,"y":0.7,"l":-8.9,"h":5.8},{"s":"O","x":262,"y":0.8,"l":-8.9,"h":5.8},{"s":"O","x":285,"y":1.2,"l":-8.9,"h":5.8},{"s":"O","x":305,"y":1.75,"l":-8.9,"h":5.8},{"s":"O","x":330,"y":2.3,"l":-8.7,"h":5.8},{"s":"O","x":355,"y":3.4,"l":-4.5,"h":5.8},{"s":"O","x":375,"y":4.5,"l":0.0,"h":5.8},{"s":"O","x":394,"y":5.2,"l":4.0,"h":5.8},{"s":"O","x":420,"y":5.35,"l":5.0,"h":5.75},{"s":"O","x":460,"y":5.4,"l":5.0,"h":5.75},{"s":"O","x":500,"y":5.45,"l":5.1,"h":5.75},
{"s":"P","x":1,"y":-8.75,"l":-8.9,"h":-8.6},{"s":"P","x":2,"y":-8.8,"l":-8.95,"h":-8.65},{"s":"P","x":3,"y":-8.75,"l":-8.9,"h":-8.6},{"s":"P","x":5,"y":-8.8,"l":-8.95,"h":-8.65},{"s":"P","x":8,"y":-8.75,"l":-8.9,"h":-8.6},{"s":"P","x":12,"y":-8.8,"l":-8.95,"h":-8.6},{"s":"P","x":16,"y":-8.65,"l":-8.85,"h":-8.45},{"s":"P","x":20,"y":-8.75,"l":-8.95,"h":-8.55},{"s":"P","x":25,"y":-8.6,"l":-8.8,"h":-8.4},{"s":"P","x":32,"y":-8.7,"l":-8.9,"h":-8.5},{"s":"P","x":40,"y":-8.6,"l":-8.8,"h":-8.35},{"s":"P","x":50,"y":-8.5,"l":-8.75,"h":-8.2},{"s":"P","x":60,"y":-8.6,"l":-8.85,"h":-8.35},{"s":"P","x":75,"y":-8.65,"l":-8.9,"h":-8.4},{"s":"P","x":90,"y":-8.5,"l":-8.75,"h":-8.25},{"s":"P","x":110,"y":-8.6,"l":-8.85,"h":-8.35},{"s":"P","x":135,"y":-8.45,"l":-8.7,"h":-8.2},{"s":"P","x":160,"y":-8.65,"l":-8.9,"h":-8.4},{"s":"P","x":190,"y":-8.4,"l":-8.65,"h":-8.15},{"s":"P","x":230,"y":-8.6,"l":-8.85,"h":-8.35},{"s":"P","x":270,"y":-8.45,"l":-8.7,"h":-8.2},{"s":"P","x":320,"y":-8.65,"l":-8.9,"h":-8.4},{"s":"P","x":370,"y":-8.4,"l":-8.65,"h":-8.15},{"s":"P","x":420,"y":-8.6,"l":-8.85,"h":-8.35},{"s":"P","x":470,"y":-8.35,"l":-8.6,"h":-8.1},{"s":"P","x":500,"y":-8.5,"l":-8.75,"h":-8.25}
],
"h":[
{"s":"R","x":1,"y":8.0},{"s":"R","x":500,"y":8.0},
{"s":"M","x":1,"y":-7.4,"l":-8.8,"h":-3.8},{"s":"M","x":2,"y":-8.1,"l":-8.7,"h":-6.9},{"s":"M","x":3,"y":-4.3,"l":-5.8,"h":-1.2},{"s":"M","x":4,"y":-0.15,"l":-3.0,"h":5.0},{"s":"M","x":5,"y":-3.8,"l":-7.4,"h":0.1},{"s":"M","x":6,"y":2.95,"l":-2.8,"h":7.9},{"s":"M","x":7,"y":3.7,"l":-2.5,"h":7.9},{"s":"M","x":8,"y":3.6,"l":-2.0,"h":7.9},{"s":"M","x":9,"y":3.4,"l":-1.5,"h":7.9},{"s":"M","x":10,"y":4.2,"l":-1.0,"h":7.9},{"s":"M","x":12,"y":5.8,"l":1.8,"h":7.9},{"s":"M","x":14,"y":6.0,"l":1.8,"h":7.9},{"s":"M","x":500,"y":6.0,"l":1.8,"h":7.9},
{"s":"O","x":1,"y":-9.0,"l":-9.05,"h":-8.9},{"s":"O","x":2,"y":-8.95,"l":-9.05,"h":-8.6},{"s":"O","x":3,"y":-8.9,"l":-9.05,"h":-8.0},{"s":"O","x":4,"y":-8.8,"l":-9.0,"h":-7.3},{"s":"O","x":5,"y":-8.7,"l":-9.0,"h":-7.0},{"s":"O","x":7,"y":-8.5,"l":-9.0,"h":-6.8},{"s":"O","x":9,"y":-8.25,"l":-9.0,"h":-6.6},{"s":"O","x":12,"y":-8.0,"l":-9.0,"h":-6.5},{"s":"O","x":15,"y":-7.7,"l":-9.0,"h":-6.2},{"s":"O","x":18,"y":-7.4,"l":-8.95,"h":-5.9},{"s":"O","x":22,"y":-7.0,"l":-8.9,"h":-5.3},{"s":"O","x":26,"y":-6.5,"l":-8.8,"h":-4.5},{"s":"O","x":30,"y":-6.1,"l":-8.7,"h":-3.8},{"s":"O","x":35,"y":-5.3,"l":-8.6,"h":-3.0},{"s":"O","x":41,"y":-4.6,"l":-8.4,"h":-2.3},{"s":"O","x":45,"y":-4.0,"l":-8.2,"h":-1.5},{"s":"O","x":50,"y":-3.3,"l":-8.0,"h":0.9},{"s":"O","x":56,"y":-2.6,"l":-7.7,"h":2.0},{"s":"O","x":62,"y":-1.7,"l":-7.5,"h":3.0},{"s":"O","x":70,"y":-1.2,"l":-7.2,"h":4.0},{"s":"O","x":76,"y":-0.7,"l":-7.0,"h":4.6},{"s":"O","x":82,"y":0.0,"l":-7.0,"h":5.5},{"s":"O","x":89,"y":0.9,"l":-6.5,"h":6.3},{"s":"O","x":95,"y":2.2,"l":-5.0,"h":6.7},{"s":"O","x":104,"y":3.5,"l":-1.5,"h":6.8},{"s":"O","x":115,"y":4.6,"l":1.0,"h":6.8},{"s":"O","x":128,"y":5.3,"l":3.8,"h":6.8},{"s":"O","x":150,"y":5.45,"l":4.1,"h":6.8},{"s":"O","x":175,"y":5.5,"l":4.2,"h":6.8},{"s":"O","x":220,"y":5.45,"l":4.1,"h":6.8},{"s":"O","x":300,"y":5.5,"l":4.2,"h":6.8},{"s":"O","x":400,"y":5.45,"l":4.1,"h":6.8},{"s":"O","x":500,"y":5.5,"l":4.2,"h":6.8},
{"s":"P","x":1,"y":-8.8,"l":-8.95,"h":-8.6},{"s":"P","x":2,"y":-8.75,"l":-8.9,"h":-8.55},{"s":"P","x":3,"y":-8.7,"l":-8.9,"h":-8.45},{"s":"P","x":4,"y":-8.75,"l":-8.9,"h":-8.5},{"s":"P","x":6,"y":-8.7,"l":-8.9,"h":-8.45},{"s":"P","x":8,"y":-8.8,"l":-8.95,"h":-8.6},{"s":"P","x":10,"y":-8.65,"l":-8.85,"h":-8.45},{"s":"P","x":13,"y":-8.75,"l":-8.9,"h":-8.55},{"s":"P","x":17,"y":-8.6,"l":-8.8,"h":-8.4},{"s":"P","x":22,"y":-8.7,"l":-8.9,"h":-8.5},{"s":"P","x":28,"y":-8.55,"l":-8.75,"h":-8.3},{"s":"P","x":35,"y":-8.35,"l":-8.55,"h":-8.1},{"s":"P","x":42,"y":-8.15,"l":-8.4,"h":-7.9},{"s":"P","x":50,"y":-8.05,"l":-8.3,"h":-7.8},{"s":"P","x":58,"y":-8.3,"l":-8.55,"h":-8.05},{"s":"P","x":70,"y":-8.5,"l":-8.75,"h":-8.25},{"s":"P","x":80,"y":-8.3,"l":-8.55,"h":-8.05},{"s":"P","x":95,"y":-8.55,"l":-8.8,"h":-8.3},{"s":"P","x":115,"y":-8.4,"l":-8.65,"h":-8.15},{"s":"P","x":140,"y":-8.6,"l":-8.85,"h":-8.35},{"s":"P","x":170,"y":-8.4,"l":-8.65,"h":-8.15},{"s":"P","x":200,"y":-8.55,"l":-8.8,"h":-8.3},{"s":"P","x":240,"y":-8.4,"l":-8.65,"h":-8.15},{"s":"P","x":290,"y":-8.6,"l":-8.85,"h":-8.35},{"s":"P","x":340,"y":-8.45,"l":-8.7,"h":-8.2},{"s":"P","x":400,"y":-8.55,"l":-8.8,"h":-8.3},{"s":"P","x":450,"y":-8.4,"l":-8.65,"h":-8.15},{"s":"P","x":500,"y":-8.5,"l":-8.75,"h":-8.25}
],
"legend":[
{"n":"MeRAP","tx":114,"a":150,"b":260},
{"n":"OPE","tx":318,"a":351,"b":459},
{"n":"Oracle","tx":540,"a":561,"b":661},
{"n":"Pretrained","tx":763,"a":791,"b":899}
]
},
"concat":[
{"hconcat":[
{"width":216,"height":121,"data":{"name":"a"},"title":"(a)",
 "encoding":{"x":{"field":"x","type":"quantitative","title":"Gradient Step","scale":{"type":"log","domain":[0.728,676],"nice":false},"axis":{"values":[1,10,100]}},
  "y":{"field":"y","type":"quantitative","title":"Mean Reward","scale":{"domain":[-9.7,7.0],"nice":false,"zero":false},"axis":{"values":[-5,0,5]}}},
 "layer":[
  {"transform":[{"filter":"datum.s=='M'"}],"mark":{"type":"area","color":"#e41a1c","opacity":0.25},"encoding":{"y":{"field":"l","type":"quantitative","title":"Mean Reward"},"y2":{"field":"h"}}},
  {"transform":[{"filter":"datum.s=='O'"}],"mark":{"type":"area","color":"#2b62ea","opacity":0.25},"encoding":{"y":{"field":"l","type":"quantitative","title":"Mean Reward"},"y2":{"field":"h"}}},
  {"transform":[{"filter":"datum.s=='P'"}],"mark":{"type":"area","color":"#333333","opacity":0.22},"encoding":{"y":{"field":"l","type":"quantitative","title":"Mean Reward"},"y2":{"field":"h"}}},
  {"transform":[{"filter":"datum.s=='R'"}],"mark":{"type":"line","color":"#31b631","strokeWidth":1.6},"encoding":{}},
  {"transform":[{"filter":"datum.s=='O'"}],"mark":{"type":"line","color":"#1a4fe6","strokeWidth":1.6},"encoding":{}},
  {"transform":[{"filter":"datum.s=='P'"}],"mark":{"type":"line","color":"#111111","strokeWidth":1,"strokeDash":[5,1.5,1,1.5]},"encoding":{}},
  {"transform":[{"filter":"datum.s=='M'"}],"mark":{"type":"line","color":"#e8151b","strokeWidth":1.1,"strokeDash":[3.5,1.5]},"encoding":{}}
 ]},
{"width":219,"height":121,"data":{"name":"b"},"title":"(b)",
 "encoding":{"x":{"field":"x","type":"quantitative","title":"Gradient Step","scale":{"type":"log","domain":[0.877,708],"nice":false},"axis":{"values":[1,10,100]}},
  "y":{"field":"y","type":"quantitative","title":"Mean Reward","scale":{"domain":[-9.7,7.0],"nice":false,"zero":false},"axis":{"values":[-5,0,5]}}},
 "layer":[
  {"transform":[{"filter":"datum.s=='M'"}],"mark":{"type":"area","color":"#e41a1c","opacity":0.25},"encoding":{"y":{"field":"l","type":"quantitative","title":"Mean Reward"},"y2":{"field":"h"}}},
  {"transform":[{"filter":"datum.s=='O'"}],"mark":{"type":"area","color":"#2b62ea","opacity":0.25},"encoding":{"y":{"field":"l","type":"quantitative","title":"Mean Reward"},"y2":{"field":"h"}}},
  {"transform":[{"filter":"datum.s=='P'"}],"mark":{"type":"area","color":"#333333","opacity":0.22},"encoding":{"y":{"field":"l","type":"quantitative","title":"Mean Reward"},"y2":{"field":"h"}}},
  {"transform":[{"filter":"datum.s=='R'"}],"mark":{"type":"line","color":"#31b631","strokeWidth":1.6},"encoding":{}},
  {"transform":[{"filter":"datum.s=='O'"}],"mark":{"type":"line","color":"#1a4fe6","strokeWidth":1.6},"encoding":{}},
  {"transform":[{"filter":"datum.s=='P'"}],"mark":{"type":"line","color":"#111111","strokeWidth":1,"strokeDash":[5,1.5,1,1.5]},"encoding":{}},
  {"transform":[{"filter":"datum.s=='M'"}],"mark":{"type":"line","color":"#e8151b","strokeWidth":1.1,"strokeDash":[3.5,1.5]},"encoding":{}}
 ]},
{"width":219,"height":121,"data":{"name":"c"},"title":"(c)",
 "encoding":{"x":{"field":"x","type":"quantitative","title":"Gradient Step","scale":{"type":"log","domain":[0.76,624],"nice":false},"axis":{"values":[1,10,100]}},
  "y":{"field":"y","type":"quantitative","title":"Mean Reward","scale":{"domain":[-9.7,7.0],"nice":false,"zero":false},"axis":{"values":[-5,0,5]}}},
 "layer":[
  {"transform":[{"filter":"datum.s=='M'"}],"mark":{"type":"area","color":"#e41a1c","opacity":0.25},"encoding":{"y":{"field":"l","type":"quantitative","title":"Mean Reward"},"y2":{"field":"h"}}},
  {"transform":[{"filter":"datum.s=='O'"}],"mark":{"type":"area","color":"#2b62ea","opacity":0.25},"encoding":{"y":{"field":"l","type":"quantitative","title":"Mean Reward"},"y2":{"field":"h"}}},
  {"transform":[{"filter":"datum.s=='P'"}],"mark":{"type":"area","color":"#333333","opacity":0.22},"encoding":{"y":{"field":"l","type":"quantitative","title":"Mean Reward"},"y2":{"field":"h"}}},
  {"transform":[{"filter":"datum.s=='R'"}],"mark":{"type":"line","color":"#31b631","strokeWidth":1.6},"encoding":{}},
  {"transform":[{"filter":"datum.s=='O'"}],"mark":{"type":"line","color":"#1a4fe6","strokeWidth":1.6},"encoding":{}},
  {"transform":[{"filter":"datum.s=='P'"}],"mark":{"type":"line","color":"#111111","strokeWidth":1,"strokeDash":[5,1.5,1,1.5]},"encoding":{}},
  {"transform":[{"filter":"datum.s=='M'"}],"mark":{"type":"line","color":"#e8151b","strokeWidth":1.1,"strokeDash":[3.5,1.5]},"encoding":{}}
 ]},
{"width":217,"height":121,"data":{"name":"d"},"title":"(d)",
 "encoding":{"x":{"field":"x","type":"quantitative","title":"Gradient Step","scale":{"type":"log","domain":[0.736,589],"nice":false},"axis":{"values":[1,10,100]}},
  "y":{"field":"y","type":"quantitative","title":"Mean Reward","scale":{"domain":[-9.6,6.8],"nice":false,"zero":false},"axis":{"values":[-5,0,5]}}},
 "layer":[
  {"transform":[{"filter":"datum.s=='M'"}],"mark":{"type":"area","color":"#e41a1c","opacity":0.25},"encoding":{"y":{"field":"l","type":"quantitative","title":"Mean Reward"},"y2":{"field":"h"}}},
  {"transform":[{"filter":"datum.s=='O'"}],"mark":{"type":"area","color":"#2b62ea","opacity":0.25},"encoding":{"y":{"field":"l","type":"quantitative","title":"Mean Reward"},"y2":{"field":"h"}}},
  {"transform":[{"filter":"datum.s=='P'"}],"mark":{"type":"area","color":"#333333","opacity":0.22},"encoding":{"y":{"field":"l","type":"quantitative","title":"Mean Reward"},"y2":{"field":"h"}}},
  {"transform":[{"filter":"datum.s=='R'"}],"mark":{"type":"line","color":"#31b631","strokeWidth":1.6},"encoding":{}},
  {"transform":[{"filter":"datum.s=='O'"}],"mark":{"type":"line","color":"#1a4fe6","strokeWidth":1.6},"encoding":{}},
  {"transform":[{"filter":"datum.s=='P'"}],"mark":{"type":"line","color":"#111111","strokeWidth":1,"strokeDash":[5,1.5,1,1.5]},"encoding":{}},
  {"transform":[{"filter":"datum.s=='M'"}],"mark":{"type":"line","color":"#e8151b","strokeWidth":1.1,"strokeDash":[3.5,1.5]},"encoding":{}}
 ]}
],"spacing":5},
{"hconcat":[
{"width":212,"height":122,"data":{"name":"e"},"title":"(e)",
 "encoding":{"x":{"field":"x","type":"quantitative","title":"Gradient Step","scale":{"type":"log","domain":[0.698,1096],"nice":false},"axis":{"values":[1,10,100,1000]}},
  "y":{"field":"y","type":"quantitative","title":"Mean Reward","scale":{"domain":[-9.9,4.7],"nice":false,"zero":false},"axis":{"values":[-7.5,-5,-2.5,0,2.5],"format":".1f","titlePadding":-2}}},
 "layer":[
  {"transform":[{"filter":"datum.s=='M'"}],"mark":{"type":"area","color":"#e41a1c","opacity":0.25},"encoding":{"y":{"field":"l","type":"quantitative","title":"Mean Reward"},"y2":{"field":"h"}}},
  {"transform":[{"filter":"datum.s=='O'"}],"mark":{"type":"area","color":"#2b62ea","opacity":0.25},"encoding":{"y":{"field":"l","type":"quantitative","title":"Mean Reward"},"y2":{"field":"h"}}},
  {"transform":[{"filter":"datum.s=='P'"}],"mark":{"type":"area","color":"#333333","opacity":0.22},"encoding":{"y":{"field":"l","type":"quantitative","title":"Mean Reward"},"y2":{"field":"h"}}},
  {"transform":[{"filter":"datum.s=='R'"}],"mark":{"type":"line","color":"#31b631","strokeWidth":1.6},"encoding":{}},
  {"transform":[{"filter":"datum.s=='O'"}],"mark":{"type":"line","color":"#1a4fe6","strokeWidth":1.6},"encoding":{}},
  {"transform":[{"filter":"datum.s=='P'"}],"mark":{"type":"line","color":"#111111","strokeWidth":1,"strokeDash":[5,1.5,1,1.5]},"encoding":{}},
  {"transform":[{"filter":"datum.s=='M'"}],"mark":{"type":"line","color":"#e8151b","strokeWidth":1.1,"strokeDash":[3.5,1.5]},"encoding":{}}
 ]},
{"width":219,"height":122,"data":{"name":"f"},"title":"(f)",
 "encoding":{"x":{"field":"x","type":"quantitative","title":"Gradient Step","scale":{"type":"log","domain":[0.776,617],"nice":false},"axis":{"values":[1,10,100]}},
  "y":{"field":"y","type":"quantitative","title":"Mean Reward","scale":{"domain":[-9.75,5.7],"nice":false,"zero":false},"axis":{"values":[-5,0,5]}}},
 "layer":[
  {"transform":[{"filter":"datum.s=='M'"}],"mark":{"type":"area","color":"#e41a1c","opacity":0.25},"encoding":{"y":{"field":"l","type":"quantitative","title":"Mean Reward"},"y2":{"field":"h"}}},
  {"transform":[{"filter":"datum.s=='O'"}],"mark":{"type":"area","color":"#2b62ea","opacity":0.25},"encoding":{"y":{"field":"l","type":"quantitative","title":"Mean Reward"},"y2":{"field":"h"}}},
  {"transform":[{"filter":"datum.s=='P'"}],"mark":{"type":"area","color":"#333333","opacity":0.22},"encoding":{"y":{"field":"l","type":"quantitative","title":"Mean Reward"},"y2":{"field":"h"}}},
  {"transform":[{"filter":"datum.s=='R'"}],"mark":{"type":"line","color":"#31b631","strokeWidth":1.6},"encoding":{}},
  {"transform":[{"filter":"datum.s=='O'"}],"mark":{"type":"line","color":"#1a4fe6","strokeWidth":1.6},"encoding":{}},
  {"transform":[{"filter":"datum.s=='P'"}],"mark":{"type":"line","color":"#111111","strokeWidth":1,"strokeDash":[5,1.5,1,1.5]},"encoding":{}},
  {"transform":[{"filter":"datum.s=='M'"}],"mark":{"type":"line","color":"#e8151b","strokeWidth":1.1,"strokeDash":[3.5,1.5]},"encoding":{}}
 ]},
{"width":219,"height":122,"data":{"name":"g"},"title":"(g)",
 "encoding":{"x":{"field":"x","type":"quantitative","title":"Gradient Step","scale":{"type":"log","domain":[0.715,589],"nice":false},"axis":{"values":[1,10,100]}},
  "y":{"field":"y","type":"quantitative","title":"Mean Reward","scale":{"domain":[-10.0,6.8],"nice":false,"zero":false},"axis":{"values":[-5,0,5]}}},
 "layer":[
  {"transform":[{"filter":"datum.s=='M'"}],"mark":{"type":"area","color":"#e41a1c","opacity":0.25},"encoding":{"y":{"field":"l","type":"quantitative","title":"Mean Reward"},"y2":{"field":"h"}}},
  {"transform":[{"filter":"datum.s=='O'"}],"mark":{"type":"area","color":"#2b62ea","opacity":0.25},"encoding":{"y":{"field":"l","type":"quantitative","title":"Mean Reward"},"y2":{"field":"h"}}},
  {"transform":[{"filter":"datum.s=='P'"}],"mark":{"type":"area","color":"#333333","opacity":0.22},"encoding":{"y":{"field":"l","type":"quantitative","title":"Mean Reward"},"y2":{"field":"h"}}},
  {"transform":[{"filter":"datum.s=='R'"}],"mark":{"type":"line","color":"#31b631","strokeWidth":1.6},"encoding":{}},
  {"transform":[{"filter":"datum.s=='O'"}],"mark":{"type":"line","color":"#1a4fe6","strokeWidth":1.6},"encoding":{}},
  {"transform":[{"filter":"datum.s=='P'"}],"mark":{"type":"line","color":"#111111","strokeWidth":1,"strokeDash":[5,1.5,1,1.5]},"encoding":{}},
  {"transform":[{"filter":"datum.s=='M'"}],"mark":{"type":"line","color":"#e8151b","strokeWidth":1.1,"strokeDash":[3.5,1.5]},"encoding":{}}
 ]},
{"width":218,"height":122,"data":{"name":"h"},"title":"(h)",
 "encoding":{"x":{"field":"x","type":"quantitative","title":"Gradient Step","scale":{"type":"log","domain":[0.734,692],"nice":false},"axis":{"values":[1,10,100]}},
  "y":{"field":"y","type":"quantitative","title":"Mean Reward","scale":{"domain":[-9.85,8.85],"nice":false,"zero":false},"axis":{"values":[-5,0,5]}}},
 "layer":[
  {"transform":[{"filter":"datum.s=='M'"}],"mark":{"type":"area","color":"#e41a1c","opacity":0.25},"encoding":{"y":{"field":"l","type":"quantitative","title":"Mean Reward"},"y2":{"field":"h"}}},
  {"transform":[{"filter":"datum.s=='O'"}],"mark":{"type":"area","color":"#2b62ea","opacity":0.25},"encoding":{"y":{"field":"l","type":"quantitative","title":"Mean Reward"},"y2":{"field":"h"}}},
  {"transform":[{"filter":"datum.s=='P'"}],"mark":{"type":"area","color":"#333333","opacity":0.22},"encoding":{"y":{"field":"l","type":"quantitative","title":"Mean Reward"},"y2":{"field":"h"}}},
  {"transform":[{"filter":"datum.s=='R'"}],"mark":{"type":"line","color":"#31b631","strokeWidth":1.6},"encoding":{}},
  {"transform":[{"filter":"datum.s=='O'"}],"mark":{"type":"line","color":"#1a4fe6","strokeWidth":1.6},"encoding":{}},
  {"transform":[{"filter":"datum.s=='P'"}],"mark":{"type":"line","color":"#111111","strokeWidth":1,"strokeDash":[5,1.5,1,1.5]},"encoding":{}},
  {"transform":[{"filter":"datum.s=='M'"}],"mark":{"type":"line","color":"#e8151b","strokeWidth":1.1,"strokeDash":[3.5,1.5]},"encoding":{}}
 ]}
],"spacing":7},
{"width":940,"height":20,"data":{"name":"legend"},"view":{"fill":null,"stroke":null},
 "layer":[
  {"mark":{"type":"rule","strokeCap":"round"},
   "encoding":{"x":{"field":"a","type":"quantitative","scale":{"domain":[0,940],"nice":false,"zero":false},"axis":null},"x2":{"field":"b"},"y":{"datum":0,"type":"quantitative","scale":{"domain":[-1,1]},"axis":null},
    "color":{"field":"n","type":"nominal","scale":{"domain":["MeRAP","OPE","Oracle","Pretrained"],"range":["#e8151b","#5b8ce8","#31b631","#111111"]},"legend":null},
    "strokeDash":{"field":"n","type":"nominal","scale":{"domain":["MeRAP","OPE","Oracle","Pretrained"],"range":[[12.7,14.6],[2.7,15],[1,0],[17.7,6.5,0.01,6.5]]},"legend":null},
    "strokeWidth":{"field":"n","type":"nominal","scale":{"domain":["MeRAP","OPE","Oracle","Pretrained"],"range":[4,4.3,4,3]},"legend":null}}},
  {"mark":{"type":"text","align":"right","baseline":"middle","font":"Liberation Serif","fontSize":15.5,"color":"#000000"},
   "encoding":{"x":{"field":"tx","type":"quantitative"},"y":{"datum":0,"type":"quantitative"},"text":{"field":"n"}}}
 ]}
],"columns":1,"spacing":6
}
